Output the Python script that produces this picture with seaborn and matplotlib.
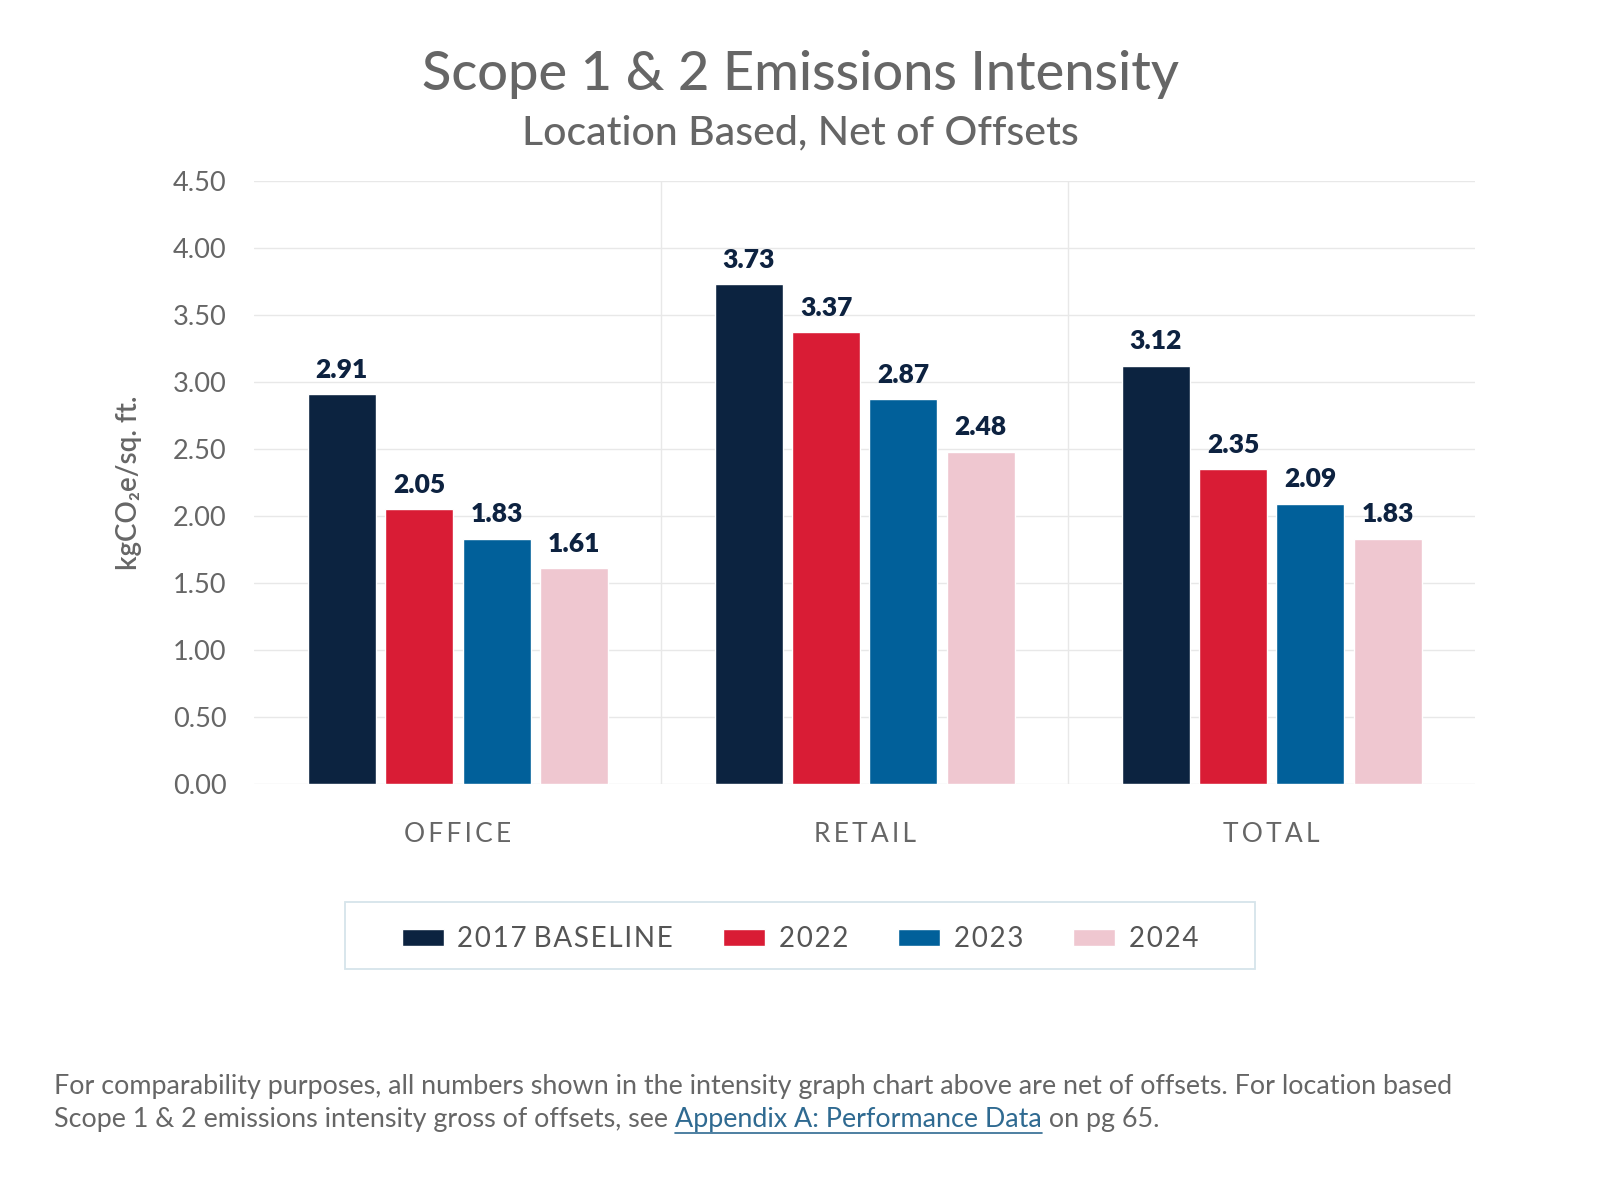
import pandas as pd
import seaborn as sns
import matplotlib.pyplot as plt
from matplotlib.lines import Line2D
from matplotlib.patches import Rectangle

# values
categories = ["OFFICE", "RETAIL", "TOTAL"]
years = ["2017 BASELINE", "2022", "2023", "2024"]
baseline_2017 = [2.91, 3.73, 3.12]
values_2022 = [2.05, 3.37, 2.35]
values_2023 = [1.83, 2.87, 2.09]
values_2024 = [1.61, 2.48, 1.83]
yticks = [0.0, 0.5, 1.0, 1.5, 2.0, 2.5, 3.0, 3.5, 4.0, 4.5]

colors = ["#0c2340", "#d91c35", "#01609a", "#efc7d0"]
GRAY = "#666666"
NAVY = "#0d2240"
HAIR = "\u200a"

rows = []
for yr, vals in zip(years, [baseline_2017, values_2022, values_2023, values_2024]):
    for cat, v in zip(categories, vals):
        rows.append({"category": cat, "year": yr, "value": v})
df = pd.DataFrame(rows)


def spaced(s, n=1):
    # fake letter spacing with hair spaces
    out = []
    for word in s.split(" "):
        out.append((HAIR * n).join(list(word)))
    return " ".join(out)


sns.set_theme(style="white")
plt.rcParams["font.family"] = ["Lato", "DejaVu Sans"]

fig = plt.figure(figsize=(16, 12), dpi=100)
ax = fig.add_axes([0.159, 0.347, 0.763, 0.502])

sns.barplot(data=df, x="category", y="value", hue="year", order=categories,
            hue_order=years, palette=colors, width=0.76, gap=0.12,
            saturation=1, ax=ax, legend=True)

for c in ax.containers:
    ax.bar_label(c, fmt="%.2f", padding=9, fontsize=19, fontweight="heavy", color=NAVY)

ax.set_ylim(0, 4.5)
ax.set_xlim(-0.5, 2.5)
ax.set_yticks(yticks)
ax.set_yticklabels([f"{t:.2f}" for t in yticks], fontsize=19.5, color=GRAY)
ax.set_xticks(range(len(categories)))
ax.set_xticklabels([spaced(c, 2) for c in categories], fontsize=19, color=GRAY)
ax.tick_params(axis="y", length=0, pad=20)
ax.tick_params(axis="x", length=0, pad=28)
ax.yaxis.grid(True, color="#e8e8e8", lw=1)
ax.set_axisbelow(True)
for xv in [0.5, 1.5]:
    ax.axvline(xv, color="#e8e8e8", lw=1, zorder=0)
for s in ax.spines.values():
    s.set_visible(False)
ax.set_xlabel("")
ax.set_ylabel("kgCO\u2082e/sq. ft.", fontsize=20, color=GRAY, labelpad=22,
              fontweight="semibold")

handles, labels = ax.get_legend_handles_labels()
ax.legend_.remove()
leg = fig.legend(handles, [spaced(l) for l in labels],
                 loc="center", bbox_to_anchor=(0.5, 0.2175), ncol=4, frameon=False,
                 fontsize=20, handlelength=1.5, handleheight=0.58,
                 columnspacing=1.8, handletextpad=0.5, borderaxespad=0)
for t in leg.get_texts():
    t.set_color("#555555")
fig.add_artist(Rectangle((0.2156, 0.1922), 0.5688, 0.0561, transform=fig.transFigure,
                         fill=False, edgecolor="#d6e4ea", lw=1.3))

fig.text(0.5, 0.938, "Scope 1 & 2 Emissions Intensity", ha="center", va="center",
         fontsize=39, color=GRAY, fontweight="medium")
fig.text(0.5, 0.889, "Location Based, Net of Offsets", ha="center", va="center",
         fontsize=29.5, color=GRAY, fontweight="medium")

# footnote with link-styled part
fs = 19.4
fig.text(0.034, 0.088, "For comparability purposes, all numbers shown in the intensity graph "
         "chart above are net of offsets. For location based",
         fontsize=fs, color=GRAY, va="baseline")
t1 = fig.text(0.034, 0.061, "Scope 1 & 2 emissions intensity gross of offsets, see ",
              fontsize=fs, color=GRAY, va="baseline")
t2 = fig.text(0, 0, "Appendix A: Performance Data", fontsize=fs, color="#2f6a91",
              va="baseline")
t3 = fig.text(0, 0, " on pg 65.", fontsize=fs, color=GRAY, va="baseline")

fig.canvas.draw()
r = fig.canvas.get_renderer()
inv = fig.transFigure.inverted()
b1 = t1.get_window_extent(r)
x1 = inv.transform((b1.x1, 0))[0]
t2.set_position((x1, 0.061))
fig.canvas.draw()
b2 = t2.get_window_extent(r)
x2 = inv.transform((b2.x1, 0))[0]
t3.set_position((x2, 0.061))
uy = 0.061 - 0.005
fig.add_artist(Line2D([x1, x2], [uy, uy], color="#2f6a91", lw=1.2,
                      transform=fig.transFigure))

fig.savefig("out.png", dpi=100, facecolor="white")
